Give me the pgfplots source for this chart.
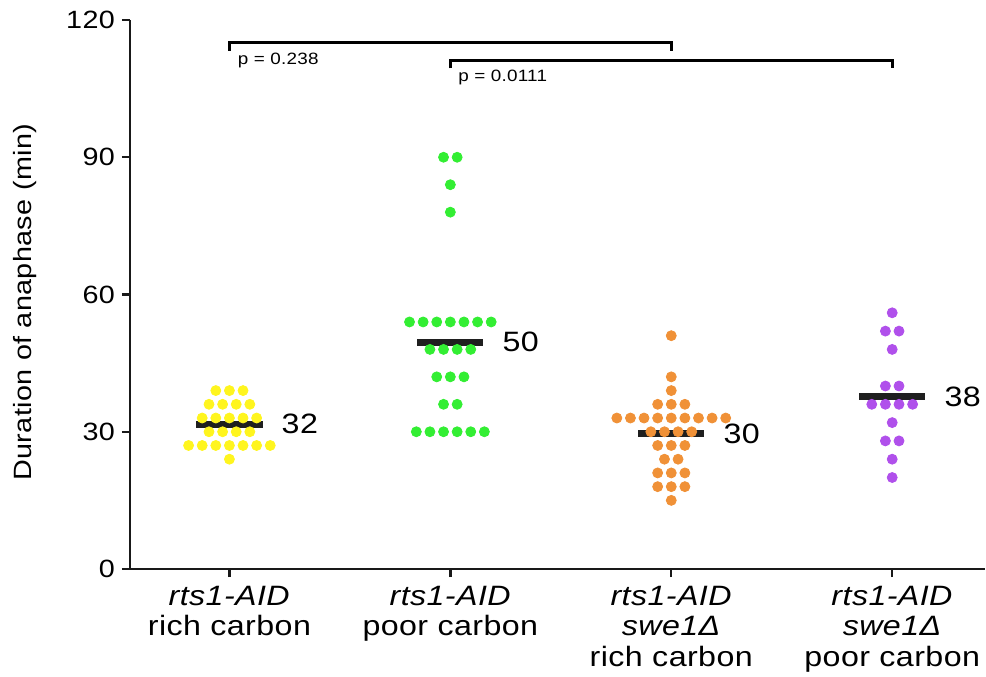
\documentclass[border=0pt]{standalone}
\usepackage{fontspec}
\setmainfont[FakeStretch=1.15, LetterSpace=1.5]{Liberation Sans}
\usepackage{pgfplots}
\pgfplotsset{compat=1.18}
\definecolor{cyel}{RGB}{255,245,30}
\definecolor{cgrn}{RGB}{51,238,51}
\definecolor{corg}{RGB}{240,145,55}
\definecolor{cpur}{RGB}{176,80,235}
\begin{document}
\begin{tikzpicture}
\path[use as bounding box] (-65pt,-53.5pt) rectangle (428pt,284.5pt);
\begin{axis}[
  at={(0,0)}, anchor=south west,
  scale only axis, width=427.5pt, height=274.5pt,
  xmin=-0.45, xmax=3.42, ymin=0, ymax=120,
  axis lines*=left,
  axis line style={line width=1.2pt, black!90},
  tick style={line width=1.2pt, black!90},
  tick align=outside, major tick length=4pt,
  xtick={0,1,2,3},
  xticklabels={{\textit{rts1-AID}\\rich carbon},{\textit{rts1-AID}\\poor carbon},{\textit{rts1-AID}\\\textit{swe1Δ}\\rich carbon},{\textit{rts1-AID}\\\textit{swe1Δ}\\poor carbon}},
  xticklabel style={align=center, font=\fontsize{14}{15.25}\selectfont, anchor=north, yshift=-1pt},
  ytick={0,30,60,90,120},
  yticklabel style={font=\fontsize{12.5}{15}\selectfont},
  /pgf/number format/assume math mode=true,
  ylabel={Duration of anaphase (min)},
  ylabel style={at={(axis description cs:-0.1228,0.486)}, anchor=center, font=\fontsize{12.5}{15}\selectfont},
  clip=false,
]
% yellow: rts1-AID rich carbon
\addplot[cyel, only marks, mark=*, mark size=2.5pt, mark options={draw=cyel, fill=cyel}] coordinates {
(-0.0616,39)(0,39)(0.0616,39)
(-0.0924,36)(-0.0308,36)(0.0308,36)(0.0924,36)
(-0.1232,33)(-0.0616,33)(0,33)(0.0616,33)(0.1232,33)
(-0.0924,30)(-0.0308,30)(0.0308,30)(0.0924,30)
(-0.1848,27)(-0.1232,27)(-0.0616,27)(0,27)(0.0616,27)(0.1232,27)(0.1848,27)
(0,24)
};
% green: rts1-AID poor carbon
\addplot[cgrn, only marks, mark=*, mark size=2.5pt, mark options={draw=cgrn, fill=cgrn}] coordinates {
(0.9692,90)(1.0308,90)
(1,84)
(1,78)
(0.8152,54)(0.8768,54)(0.9384,54)(1,54)(1.0616,54)(1.1232,54)(1.1848,54)
(0.9076,48)(0.9692,48)(1.0308,48)(1.0924,48)
(0.9384,42)(1,42)(1.0616,42)
(0.9692,36)(1.0308,36)
(0.846,30)(0.9076,30)(0.9692,30)(1.0308,30)(1.0924,30)(1.154,30)
};
% orange: rts1-AID swe1 rich carbon
\addplot[corg, only marks, mark=*, mark size=2.5pt, mark options={draw=corg, fill=corg}] coordinates {
(2,51)
(2,42)
(2,39)
(1.9384,36)(2,36)(2.0616,36)
(1.7536,33)(1.8152,33)(1.8768,33)(1.9384,33)(2,33)(2.0616,33)(2.1232,33)(2.1848,33)(2.2464,33)
(1.9076,30)(1.9692,30)(2.0308,30)(2.0924,30)
(1.9384,27)(2,27)(2.0616,27)
(1.9692,24)(2.0308,24)
(1.9384,21)(2,21)(2.0616,21)
(1.9384,18)(2,18)(2.0616,18)
(2,15)
};
% purple: rts1-AID swe1 poor carbon
\addplot[cpur, only marks, mark=*, mark size=2.5pt, mark options={draw=cpur, fill=cpur}] coordinates {
(3,56)
(2.9692,52)(3.0308,52)
(3,48)
(2.9692,40)(3.0308,40)
(2.9076,36)(2.9692,36)(3.0308,36)(3.0924,36)
(3,32)
(2.9692,28)(3.0308,28)
(3,24)
(3,20)
};
% mean bars
\addplot[line width=3.5pt, black, opacity=0.88] coordinates {(-0.15,31.625)(0.15,31.625)};
\addplot[line width=3.5pt, black, opacity=0.88] coordinates {(0.85,49.615)(1.15,49.615)};
\addplot[line width=3.5pt, black, opacity=0.88] coordinates {(1.85,29.613)(2.15,29.613)};
\addplot[line width=3.5pt, black, opacity=0.88] coordinates {(2.85,37.6)(3.15,37.6)};
% mean labels
\node[anchor=west, inner sep=0pt, font=\fontsize{14}{16}\selectfont] at (axis cs:0.235,31.625) {32};
\node[anchor=west, inner sep=0pt, font=\fontsize{14}{16}\selectfont] at (axis cs:1.235,49.615) {50};
\node[anchor=west, inner sep=0pt, font=\fontsize{14}{16}\selectfont] at (axis cs:2.235,29.613) {30};
\node[anchor=west, inner sep=0pt, font=\fontsize{14}{16}\selectfont] at (axis cs:3.235,37.6) {38};
% significance brackets
\draw[line width=1.3pt, black] (axis cs:0,113.3) -- (axis cs:0,115.1) -- (axis cs:2,115.1) -- (axis cs:2,113.3);
\draw[line width=1.3pt, black] (axis cs:1,109.4) -- (axis cs:1,111.1) -- (axis cs:3,111.1) -- (axis cs:3,109.4);
\node[anchor=base west, inner sep=0pt, font=\fontsize{8.2}{10}\selectfont] at (axis cs:0.037,110.3) {p = 0.238};
\node[anchor=base west, inner sep=0pt, font=\fontsize{8.2}{10}\selectfont] at (axis cs:1.035,106.6) {p = 0.0111};
\end{axis}
\end{tikzpicture}
\end{document}
